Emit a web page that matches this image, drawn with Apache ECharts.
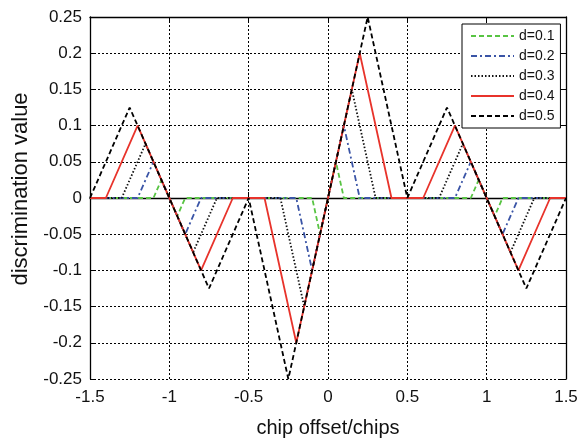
<!DOCTYPE html>
<html>
<head>
<meta charset="utf-8">
<script src="https://cdn.jsdelivr.net/npm/echarts@6/dist/echarts.min.js"></script>
<style>
  html, body { margin: 0; padding: 0; background: #fff; }
  #chart { width: 588px; height: 443px; }
</style>
</head>
<body>
<div id="chart"></div>
<script>
// Discriminator output vs. code offset for several correlator spacings d.
// Each curve is given by its corner points [offset, value].
const legendNames = ['d=0.1', 'd=0.2', 'd=0.3', 'd=0.4', 'd=0.5'];

const curveD01 = [[-1.5, 0], [-1.1, 0], [-1.05, 0.025], [-0.95, -0.025], [-0.9, 0], [-0.1, 0],
  [-0.05, -0.05], [0.05, 0.05], [0.1, 0], [0.9, 0], [0.95, 0.025], [1.05, -0.025], [1.1, 0], [1.5, 0]];
const curveD02 = [[-1.5, 0], [-1.2, 0], [-1.1, 0.05], [-0.9, -0.05], [-0.8, 0], [-0.2, 0],
  [-0.1, -0.1], [0.1, 0.1], [0.2, 0], [0.8, 0], [0.9, 0.05], [1.1, -0.05], [1.2, 0], [1.5, 0]];
const curveD03 = [[-1.5, 0], [-1.3, 0], [-1.15, 0.075], [-0.85, -0.075], [-0.7, 0], [-0.3, 0],
  [-0.15, -0.15], [0.15, 0.15], [0.3, 0], [0.7, 0], [0.85, 0.075], [1.15, -0.075], [1.3, 0], [1.5, 0]];
const curveD04 = [[-1.5, 0], [-1.4, 0], [-1.2, 0.1], [-0.8, -0.1], [-0.6, 0], [-0.4, 0],
  [-0.2, -0.2], [0.2, 0.2], [0.4, 0], [0.6, 0], [0.8, 0.1], [1.2, -0.1], [1.4, 0], [1.5, 0]];
const curveD05 = [[-1.5, 0], [-1.25, 0.125], [-0.75, -0.125], [-0.5, 0], [-0.25, -0.25],
  [0.25, 0.25], [0.5, 0], [0.75, 0.125], [1.25, -0.125], [1.5, 0]];

const curves = [curveD01, curveD02, curveD03, curveD04, curveD05];

// Line looks per spacing
const lineColors = ['#58c443', '#3a54a6', '#111111', '#e8332b', '#000000'];
const lineDashes = [[5, 3], [6, 3, 2, 3], [1.5, 2], 'solid', [5, 3]];

const FONT = '"Liberation Sans", Arial, Helvetica, sans-serif';

const chart = echarts.init(document.getElementById('chart'), null, { renderer: 'canvas' });

const fmt = v => String(parseFloat(v.toFixed(2)));

const option = {
  animation: false,
  backgroundColor: '#fff',
  grid: { left: 90, top: 17, right: 22, bottom: 59, containLabel: false },
  legend: {
    orient: 'vertical',
    left: 462,
    top: 24,
    padding: [5, 6, 5, 8],
    itemWidth: 43,
    itemHeight: 14,
    itemGap: 6,
    backgroundColor: '#fff',
    borderColor: '#000',
    borderWidth: 1,
    borderRadius: 0,
    // keys show only the line sample, no marker
    itemStyle: { opacity: 0 },
    textStyle: { fontFamily: FONT, fontSize: 14, color: '#111' },
    data: legendNames
  },
  xAxis: [
    {
      type: 'value', position: 'bottom', min: -1.5, max: 1.5, interval: 0.5,
      name: 'chip offset/chips', nameLocation: 'middle', nameGap: 39,
      nameTextStyle: { fontFamily: FONT, fontSize: 20, color: '#111' },
      axisLine: { lineStyle: { color: '#000', width: 1.3 } },
      axisTick: { inside: true, length: 6, lineStyle: { color: '#000' } },
      axisLabel: { fontFamily: FONT, fontSize: 17, color: '#111', margin: 10, formatter: fmt },
      splitLine: { show: true, lineStyle: { color: '#000', width: 1, type: [2, 2] } }
    },
    {
      type: 'value', position: 'top', min: -1.5, max: 1.5, interval: 0.5,
      axisLine: { onZero: false, lineStyle: { color: '#000', width: 1.3 } },
      axisTick: { inside: true, length: 6, lineStyle: { color: '#000' } },
      axisLabel: { show: false },
      splitLine: { show: false }
    }
  ],
  yAxis: [
    {
      type: 'value', position: 'left', min: -0.25, max: 0.25, interval: 0.05,
      name: 'discrimination value', nameLocation: 'middle', nameGap: 58,
      nameTextStyle: { fontFamily: FONT, fontSize: 22, color: '#111', padding: [0, 0, 0, 18] },
      axisLine: { show: true, onZero: false, lineStyle: { color: '#000', width: 1.3 } },
      axisTick: { show: true, inside: true, length: 6, lineStyle: { color: '#000' } },
      axisLabel: { fontFamily: FONT, fontSize: 17, color: '#111', margin: 8, formatter: fmt },
      splitLine: { show: true, lineStyle: { color: '#000', width: 1, type: [2, 2] } }
    },
    {
      type: 'value', position: 'right', min: -0.25, max: 0.25, interval: 0.05,
      axisLine: { show: true, onZero: false, lineStyle: { color: '#000', width: 1.3 } },
      axisTick: { show: true, inside: true, length: 6, lineStyle: { color: '#000' } },
      axisLabel: { show: false },
      splitLine: { show: false }
    }
  ],
  series: curves.map((pts, i) => ({
    name: legendNames[i],
    type: 'line',
    xAxisIndex: 0,
    yAxisIndex: 0,
    data: pts,
    symbol: 'none',
    showSymbol: false,
    clip: false,
    lineStyle: { color: lineColors[i], width: 1.8, type: lineDashes[i], cap: 'butt' },
    itemStyle: { color: lineColors[i] },
    emphasis: { disabled: true }
  }))
};

chart.setOption(option);
</script>
</body>
</html>
